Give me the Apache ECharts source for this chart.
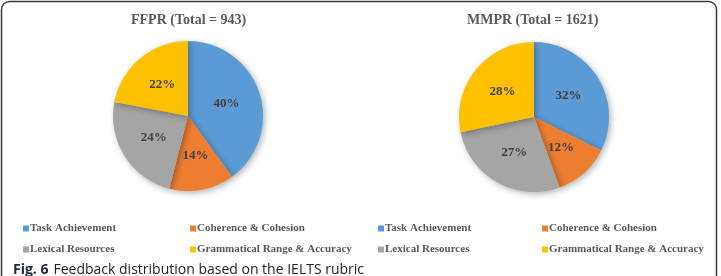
<!DOCTYPE html>
<html>
<head>
<meta charset="utf-8">
<script src="https://cdn.jsdelivr.net/npm/echarts@6/dist/echarts.min.js"></script>
<style>
    html, body { margin: 0; padding: 0; background: #fff; }
    #chart { width: 721px; height: 276px; }
</style>
</head>
<body>
<div id="chart"></div>
<script>
// data
const categories = ['Task Achievement', 'Coherence & Cohesion', 'Lexical Resources', 'Grammatical Range & Accuracy'];
const ffprValues = [40, 14, 24, 22];
const mmprValues = [32, 12, 27, 28];
const chartTitles = ['FFPR (Total = 943)', 'MMPR (Total = 1621)'];
const caption = 'Feedback distribution based on the IELTS rubric';

const colorList = ['#5B9BD5', '#ED7D31', '#A5A5A5', '#FFC000'];
const serif = '"Liberation Serif", "DejaVu Serif", serif';

const chart = echarts.init(document.getElementById('chart'));

function pieData(vals) {
    return categories.map((name, i) => ({ name: name, value: vals[i] }));
}

function pieSeries(vals, center) {
    return {
        type: 'pie',
        center: center,
        radius: 75,
        startAngle: 90,
        clockwise: true,
        silent: true,
        data: pieData(vals),
        itemStyle: {
            shadowBlur: 6,
            shadowColor: 'rgba(0,0,0,0.3)',
            shadowOffsetX: 2,
            shadowOffsetY: 2
        },
        label: {
            position: 'inside',
            formatter: '{c}%',
            color: '#404040',
            fontFamily: serif,
            fontWeight: 'bold',
            fontSize: 13
        },
        labelLine: { show: false }
    };
}

function legendAt(left, textWidth) {
    return {
        left: left,
        top: 218,
        width: 345,
        orient: 'horizontal',
        icon: 'rect',
        itemWidth: 6,
        itemHeight: 6,
        itemGap: 10,
        data: categories,
        selectedMode: false,
        textStyle: {
            color: '#595959',
            fontFamily: serif,
            fontWeight: 'bold',
            fontSize: 11,
            lineHeight: 10,
            width: textWidth,
            padding: [0, 0, 0, -4]
        }
    };
}

const titleStyle = {
    color: '#595959',
    fontFamily: serif,
    fontWeight: 'bold',
    fontSize: 14
};

const option = {
    animation: false,
    color: colorList,
    title: [
        { text: chartTitles[0], left: 131, top: 13, padding: 0, textStyle: titleStyle },
        { text: chartTitles[1], left: 467, top: 13, padding: 0, textStyle: titleStyle },
        {
            text: '{b|Fig. 6} {n|' + caption + '}',
            left: 13,
            top: 261,
            padding: 0,
            textStyle: {
                fontWeight: 'normal',
                rich: {
                    b: { fontFamily: '"Open Sans", sans-serif', fontWeight: 'bold', fontSize: 14, color: '#1e2a3a' },
                    n: { fontFamily: '"Open Sans", sans-serif', fontWeight: 'normal', fontSize: 14, color: '#222' }
                }
            }
        }
    ],
    legend: [legendAt(18, 150), legendAt(373, 147)],
    graphic: [{
        type: 'rect',
        silent: true,
        shape: { x: 1.5, y: 1.5, width: 715, height: 300, r: 8 },
        style: { fill: 'none', stroke: '#3a3a3a', lineWidth: 1.5 }
    }],
    series: [
        pieSeries(ffprValues, [188, 116]),
        pieSeries(mmprValues, [534, 117])
    ]
};

chart.setOption(option);
</script>
</body>
</html>
